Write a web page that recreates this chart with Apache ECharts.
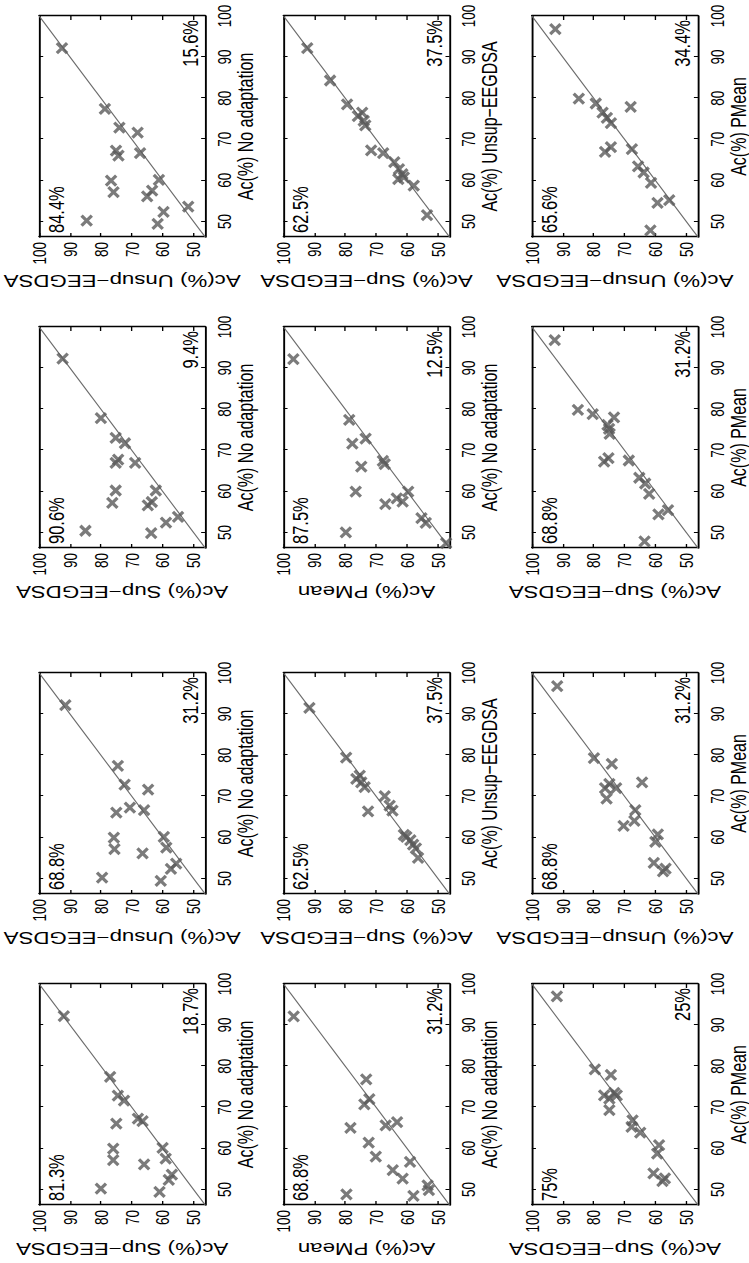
<!DOCTYPE html>
<html>
<head>
<meta charset="utf-8">
<script src="https://cdn.jsdelivr.net/npm/echarts@6/dist/echarts.min.js"></script>
<style>
  html, body { margin: 0; padding: 0; background: #fff; width: 749px; height: 1263px; overflow: hidden; }
  /* the figure is drawn landscape and turned a quarter turn counter-clockwise, stretched a bit across */
  #chart { position: absolute; left: 0; top: 0; width: 1263px; height: 555px;
           transform-origin: 0 0; transform: matrix(0, -1, 1.35, 0, 0, 1263); }
</style>
</head>
<body>
<div id="chart"></div>
<script>
// axis limits and ticks shared by every panel
var AX_MIN = 46.2
var AX_MAX = 100
var TICKS = [50, 60, 70, 80, 90, 100]

// [x, y] accuracy pairs, one array per panel
var A_noadapt_sup = [[92.2, 92.0], [77.4, 77.0], [72.8, 74.5], [71.6, 72.5], [67.2, 68.0], [66.6, 66.5], [66.0, 75.0], [59.9, 76.0],
    [57.1, 76.0], [56.1, 66.0], [60.1, 60.0], [57.5, 59.0], [53.6, 57.0], [52.3, 58.0], [50.2, 80.0], [49.4, 61.0]]
var A_noadapt_pmean = [[92.1, 96.7], [76.8, 73.2], [70.7, 73.8], [72.0, 72.2], [65.0, 78.3], [65.6, 66.9], [66.4, 63.2], [61.4, 72.4],
    [58.0, 70.1], [56.7, 59.0], [54.7, 64.6], [52.6, 61.4], [48.8, 79.6], [51.0, 53.3], [49.8, 52.9], [48.4, 57.9]]
var A_pmean_sup = [[97.0, 91.9], [79.2, 79.6], [77.9, 74.4], [72.9, 76.6], [72.1, 74.9], [73.5, 73.3], [72.9, 72.5], [69.3, 74.9],
    [66.8, 67.4], [65.2, 67.7], [63.8, 64.9], [60.8, 58.8], [58.7, 59.4], [53.9, 60.6], [52.7, 56.9], [52.0, 57.7]]
var A_noadapt_unsup = [[92.2, 91.5], [77.4, 74.5], [72.8, 72.3], [71.6, 64.7], [67.2, 70.6], [66.6, 66.0], [66.0, 75.0], [59.9, 75.8],
    [60.1, 59.6], [57.1, 75.6], [57.5, 58.8], [56.1, 66.5], [53.6, 55.6], [52.3, 57.3], [50.2, 79.6], [49.4, 60.6]]
var A_unsup_sup = [[91.5, 91.6], [79.4, 79.7], [75.0, 75.3], [74.2, 76.4], [73.4, 74.8], [72.2, 73.7], [70.0, 67.2], [66.3, 72.6],
    [67.7, 65.6], [66.5, 64.7], [60.6, 61.0], [60.1, 60.2], [59.3, 58.9], [58.2, 58.0], [57.3, 57.1], [55.0, 56.4]]
var A_pmean_unsup = [[96.8, 91.8], [79.3, 79.9], [77.9, 74.1], [73.4, 64.3], [72.0, 76.3], [73.0, 74.9], [72.0, 72.7], [69.4, 75.8],
    [66.6, 66.5], [64.0, 66.8], [62.8, 70.3], [60.7, 59.2], [58.9, 60.0], [53.8, 60.5], [52.4, 56.7], [51.7, 57.5]]
var B_noadapt_sup = [[92.3, 92.4], [77.8, 80.0], [73.0, 75.2], [71.7, 72.2], [67.7, 74.4], [66.9, 75.2], [66.9, 68.9], [60.2, 75.2],
    [57.2, 76.3], [60.2, 62.2], [57.4, 63.5], [56.6, 64.8], [53.8, 55.0], [52.4, 58.9], [49.8, 63.7], [50.4, 85.0]]
var B_noadapt_pmean = [[92.2, 96.8], [77.4, 78.7], [72.8, 73.4], [71.6, 77.7], [66.0, 74.8], [67.4, 67.8], [66.6, 67.2], [59.9, 76.6],
    [59.9, 59.6], [56.9, 67.0], [58.3, 63.3], [57.5, 61.4], [50.0, 79.8], [53.5, 55.3], [52.3, 53.9], [47.4, 47.3]]
var B_pmean_sup = [[96.8, 92.6], [79.8, 85.1], [78.8, 80.3], [78.0, 73.4], [76.2, 75.5], [75.2, 75.0], [74.0, 74.8], [67.2, 76.6],
    [68.1, 75.2], [67.5, 68.6], [63.3, 65.2], [61.9, 63.3], [59.4, 62.0], [54.4, 59.0], [55.4, 55.9], [47.8, 63.5]]
var B_noadapt_unsup = [[92.2, 92.6], [77.4, 78.7], [72.8, 74.0], [71.6, 68.1], [67.2, 75.1], [66.0, 74.3], [66.6, 67.3], [59.9, 76.7],
    [57.1, 75.9], [60.1, 61.2], [57.5, 63.4], [56.1, 65.0], [52.3, 59.7], [53.6, 51.7], [50.2, 84.6], [49.4, 61.6]]
var B_unsup_sup = [[92.2, 92.3], [84.3, 84.9], [78.5, 79.4], [76.5, 74.5], [75.6, 75.9], [74.5, 74.0], [73.4, 73.5], [67.3, 71.6],
    [66.6, 67.7], [64.4, 64.1], [62.7, 62.6], [61.5, 61.5], [60.3, 62.8], [60.7, 61.0], [58.7, 57.8], [51.5, 53.5]]
var B_pmean_unsup = [[96.8, 92.4], [79.9, 84.8], [78.7, 79.3], [77.9, 68.0], [76.5, 77.1], [75.2, 75.7], [73.9, 74.4], [66.9, 76.3],
    [68.1, 74.4], [67.6, 67.6], [63.4, 65.6], [61.9, 63.8], [59.4, 61.4], [54.5, 59.3], [55.2, 55.5], [47.8, 61.6]]

// axis titles and share of points above / below the diagonal
var NO_ADAPT = 'Ac(%) No adaptation'
var SUP = 'Ac(%) Sup\u2212EEGDSA'
var UNSUP = 'Ac(%) Unsup\u2212EEGDSA'
var PMEAN = 'Ac(%) PMean'

var panels = [
    { col: 0, row: 0, data: A_noadapt_sup, xName: NO_ADAPT, yName: SUP, above: '81.3%', below: '18.7%' },
    { col: 0, row: 1, data: A_noadapt_pmean, xName: NO_ADAPT, yName: PMEAN, above: '68.8%', below: '31.2%' },
    { col: 0, row: 2, data: A_pmean_sup, xName: PMEAN, yName: SUP, above: '75%', below: '25%' },
    { col: 1, row: 0, data: A_noadapt_unsup, xName: NO_ADAPT, yName: UNSUP, above: '68.8%', below: '31.2%' },
    { col: 1, row: 1, data: A_unsup_sup, xName: UNSUP, yName: SUP, above: '62.5%', below: '37.5%' },
    { col: 1, row: 2, data: A_pmean_unsup, xName: PMEAN, yName: UNSUP, above: '68.8%', below: '31.2%' },
    { col: 2, row: 0, data: B_noadapt_sup, xName: NO_ADAPT, yName: SUP, above: '90.6%', below: '9.4%' },
    { col: 2, row: 1, data: B_noadapt_pmean, xName: NO_ADAPT, yName: PMEAN, above: '87.5%', below: '12.5%' },
    { col: 2, row: 2, data: B_pmean_sup, xName: PMEAN, yName: SUP, above: '68.8%', below: '31.2%' },
    { col: 3, row: 0, data: B_noadapt_unsup, xName: NO_ADAPT, yName: UNSUP, above: '84.4%', below: '15.6%' },
    { col: 3, row: 1, data: B_unsup_sup, xName: UNSUP, yName: SUP, above: '62.5%', below: '37.5%' },
    { col: 3, row: 2, data: B_pmean_unsup, xName: PMEAN, yName: UNSUP, above: '65.6%', below: '34.4%' }
]

// layout of the landscape figure (before the css turn)
var COL_LEFT = [58, 369, 715, 1026]
var COL_W = 221
var ROW_TOP = [29, 210, 394]
var ROW_H = 123

var FONT = '"Liberation Sans", Arial, Helvetica, sans-serif'
var CROSS = 'path://M0,0L10,10M10,0L0,10'

var grids = []
var xAxes = []
var yAxes = []
var series = []
var texts = []
var n = panels.length

var tickFmt = function(v) {
    return v % 10 === 0 ? String(v) : ''
}

panels.forEach(function(p, i) {
    var left = COL_LEFT[p.col]
    var top = ROW_TOP[p.row]
    grids.push({ left: left, top: top, width: COL_W, height: ROW_H, outerBoundsMode: 'none', containLabel: false })

    var line = { show: true, onZero: false, lineStyle: { color: '#000', width: 1.4 } }
    // bottom and left axes carry labels
    xAxes[i] = {
        type: 'value', gridIndex: i, position: 'bottom', min: AX_MIN, max: AX_MAX,
        name: p.xName, nameLocation: 'middle', nameGap: 18,
        nameTextStyle: { fontSize: 16, fontFamily: FONT, color: '#000' },
        axisLine: line,
        axisTick: { show: true, inside: true, length: 3, customValues: TICKS, lineStyle: { color: '#000', width: 1 } },
        axisLabel: { show: true, margin: 7, customValues: TICKS, formatter: tickFmt, fontSize: 13.5, fontFamily: FONT, color: '#000' },
        splitLine: { show: false }
    }
    yAxes[i] = {
        type: 'value', gridIndex: i, position: 'left', min: AX_MIN, max: AX_MAX,
        name: p.yName, nameLocation: 'middle', nameGap: 35, nameRotate: 90,
        nameTextStyle: { fontSize: 16.5, fontFamily: FONT, color: '#000' },
        axisLine: line,
        axisTick: { show: true, inside: true, length: 4, customValues: TICKS, lineStyle: { color: '#000', width: 1 } },
        axisLabel: { show: true, margin: 5, customValues: TICKS, formatter: tickFmt, fontSize: 13.5, fontFamily: FONT, color: '#000' },
        splitLine: { show: false }
    }
    // top and right axes close the box, ticks only
    xAxes[n + i] = {
        type: 'value', gridIndex: i, position: 'top', min: AX_MIN, max: AX_MAX,
        axisLine: line,
        axisTick: { show: true, inside: true, length: 3, customValues: TICKS, lineStyle: { color: '#000', width: 1 } },
        axisLabel: { show: false }, splitLine: { show: false }
    }
    yAxes[n + i] = {
        type: 'value', gridIndex: i, position: 'right', min: AX_MIN, max: AX_MAX,
        axisLine: line,
        axisTick: { show: true, inside: true, length: 4, customValues: TICKS, lineStyle: { color: '#000', width: 1 } },
        axisLabel: { show: false }, splitLine: { show: false }
    }

    series.push({
        type: 'line', xAxisIndex: i, yAxisIndex: i,
        data: [[AX_MIN, AX_MIN], [AX_MAX, AX_MAX]],
        symbol: 'none', silent: true, z: 1,
        lineStyle: { color: '#6a6a6a', width: 0.9 }
    })
    series.push({
        type: 'scatter', xAxisIndex: i, yAxisIndex: i,
        data: p.data,
        symbol: CROSS, symbolSize: [10, 7.6], z: 2,
        itemStyle: { color: 'rgba(0,0,0,0)', borderColor: '#5a5a5a', borderWidth: 2.8 },
        emphasis: { disabled: true }
    })

    // percentages in the upper-left and lower-right corners
    texts.push({
        type: 'text', x: left + 4, y: top + 4, silent: true,
        style: { text: p.above, font: '16.5px ' + FONT, fill: '#000', align: 'left', verticalAlign: 'top' }
    })
    texts.push({
        type: 'text', x: left + COL_W - 4, y: top + ROW_H - 3, silent: true,
        style: { text: p.below, font: '16.5px ' + FONT, fill: '#000', align: 'right', verticalAlign: 'bottom' }
    })
})

var chart = echarts.init(document.getElementById('chart'), null, { renderer: 'svg', width: 1263, height: 555 })
chart.setOption({
    animation: false,
    backgroundColor: '#fff',
    grid: grids,
    xAxis: xAxes,
    yAxis: yAxes,
    series: series,
    graphic: texts
})
</script>
</body>
</html>
